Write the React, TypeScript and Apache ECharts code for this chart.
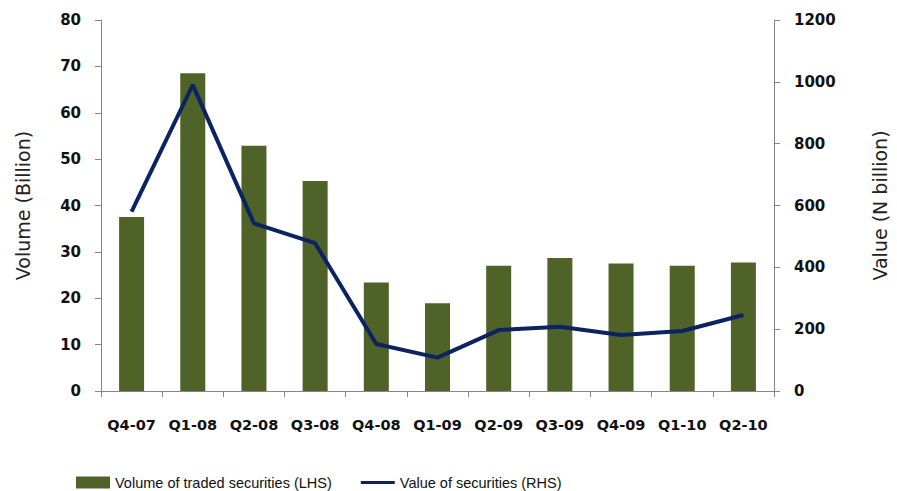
import React, { useEffect, useRef } from "react";
import * as echarts from "echarts";

const categories = ["Q4-07", "Q1-08", "Q2-08", "Q3-08", "Q4-08", "Q1-09", "Q2-09", "Q3-09", "Q4-09", "Q1-10", "Q2-10"];
const volumeValues = [37.5, 68.5, 52.9, 45.3, 23.4, 18.9, 27.0, 28.7, 27.5, 27.0, 27.7];
const valueValues = [580, 990, 542, 478, 152, 108, 197, 208, 181, 194, 246];
const volumeName = "Volume of traded securities (LHS)";
const valueName = "Value of securities (RHS)";

export default function App() {
  const ref = useRef<HTMLDivElement>(null);
  useEffect(() => {
    if (!ref.current) return;
    const chart = echarts.init(ref.current, null, { renderer: "svg" });
    const axisLineStyle = { color: "#868686", width: 1 };
    const tickFont = { fontFamily: "DejaVu Sans", fontWeight: "bold" as const, color: "#111", fontSize: 15 };
    chart.setOption({
      animation: false,
      backgroundColor: "#fff",
      grid: { left: 101, right: 116, top: 20, bottom: 100, containLabel: false },
      legend: {
        left: 71,
        top: 470,
        itemWidth: 34,
        itemHeight: 12,
        itemGap: 29,
        textStyle: { fontFamily: "Liberation Sans", fontSize: 14.5, color: "#111" },
        data: [
          { name: volumeName, icon: "rect" },
          { name: valueName, icon: "path://M0 0H100V9H0Z" },
        ],
      },
      xAxis: {
        type: "category",
        data: categories,
        axisLine: { lineStyle: axisLineStyle },
        axisTick: { show: true, length: 6, lineStyle: axisLineStyle, alignWithLabel: false },
        axisLabel: { ...tickFont, fontSize: 14.5, margin: 26, interval: 0 },
      },
      yAxis: [
        {
          type: "value",
          min: 0,
          max: 80,
          interval: 10,
          position: "left",
          name: "Volume (Billion)",
          nameLocation: "middle",
          nameGap: 69,
          nameTextStyle: { fontFamily: "DejaVu Sans", fontSize: 19, color: "#222" },
          axisLine: { show: true, lineStyle: axisLineStyle },
          axisTick: { show: true, length: 6, lineStyle: axisLineStyle },
          splitLine: { show: false },
          axisLabel: { ...tickFont, margin: 20 },
        },
        {
          type: "value",
          min: 0,
          max: 1200,
          interval: 200,
          position: "right",
          name: "Value (N billion)",
          nameLocation: "middle",
          nameGap: 96,
          nameRotate: 90,
          nameTextStyle: { fontFamily: "DejaVu Sans", fontSize: 19, color: "#222" },
          axisLine: { show: true, lineStyle: axisLineStyle },
          axisTick: { show: true, length: 6, lineStyle: axisLineStyle },
          splitLine: { show: false },
          axisLabel: { ...tickFont, margin: 20, formatter: (v: number) => String(v) },
        },
      ],
      series: [
        {
          name: volumeName,
          type: "bar",
          data: volumeValues,
          barWidth: 25,
          itemStyle: { color: "#4F6228" },
          yAxisIndex: 0,
        },
        {
          name: valueName,
          type: "line",
          data: valueValues,
          yAxisIndex: 1,
          symbol: "none",
          lineStyle: { color: "#0B2360", width: 4 },
          itemStyle: { color: "#0B2360" },
        },
      ],
    });
    return () => chart.dispose();
  }, []);
  return <div ref={ref} style={{ width: 897, height: 491, position: "absolute", left: 0, top: 0 }} />;
}
